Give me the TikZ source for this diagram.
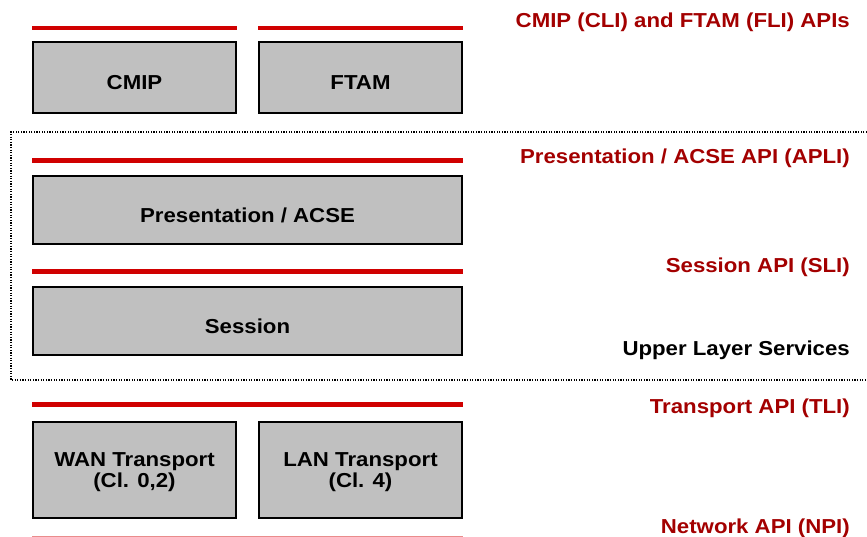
\documentclass[tikz,border=0pt]{standalone}
\usepackage{fontspec}
\setmainfont{Liberation Sans}[FakeStretch=1.1]
\definecolor{apired}{RGB}{208,0,0}
\definecolor{apitext}{RGB}{163,0,0}
\definecolor{layergray}{RGB}{192,192,192}
\newcommand{\tightlines}{\lineskiplimit=-20pt\relax}
\tikzset{
    layer/.style={draw, line width=1.5pt, fill=layergray, minimum width=203pt, minimum height=71pt, inner sep=0pt, text height=25pt, text depth=0pt},
    twoline/.style={layer, minimum height=96pt, align=center, text height=34pt, text depth=0pt},
    apibar/.style={apired, line width=4.5pt},
    apilabel/.style={anchor=base east, text=apitext, inner sep=0pt}
}
\begin{document}
\begin{tikzpicture}[x=1pt, y=-1pt, font=\fontsize{20.2pt}{20.5pt}\selectfont\bfseries, execute at begin node=\tightlines]
                    \useasboundingbox (0,0) rectangle (867,537);
                    \draw[line width=1.3pt, dash pattern=on 1.3pt off 1.3pt] (867,132) -- (11,132) -- (11,380) -- (867,380);
                    \node[layer] (cmip) at (134.5,77.5) {CMIP};
                    \node[layer] (ftam) at (360.5,77.5) {FTAM};
                    \node[layer, minimum width=429pt, minimum height=68pt] (pres) at (247.5,210) {Presentation / ACSE};
                    \node[layer, minimum width=429pt, minimum height=68pt] (sess) at (247.5,321) {Session};
                    \node[twoline] (wan) at (134.5,470) {WAN Transport\\(Cl. 0,2)};
                    \node[twoline] (lan) at (360.5,470) {LAN Transport\\(Cl. 4)};
                    \draw[apibar] ([yshift=13pt]cmip.north west) -- ([yshift=13pt]cmip.north east);
                    \draw[apibar] ([yshift=13pt]ftam.north west) -- ([yshift=13pt]ftam.north east);
                    \draw[apibar] ([yshift=14.7pt]pres.north west) -- ([yshift=14.7pt]pres.north east);
                    \draw[apibar] ([yshift=14.7pt]sess.north west) -- ([yshift=14.7pt]sess.north east);
                    \draw[apibar] ([yshift=16.7pt]wan.north west) -- ([yshift=16.7pt]lan.north east);
                    \draw[apired!45, line width=1.2pt] ([yshift=-18pt]wan.south west) -- ([yshift=-18pt]lan.south east);
                    \node[apilabel] (apis) at (850,28) {CMIP (CLI) and FTAM (FLI) APIs};
                    \node[apilabel] (apli) at (850,164) {Presentation / ACSE API (APLI)};
                    \node[apilabel] (sli) at (850,272.5) {Session API (SLI)};
                    \node[apilabel, text=black] (uls) at (850,355) {Upper Layer Services};
                    \node[apilabel] (tli) at (850,413.5) {Transport API (TLI)};
                    \node[apilabel] (npi) at (850,533) {Network API (NPI)};
                \end{tikzpicture}
\end{document}
